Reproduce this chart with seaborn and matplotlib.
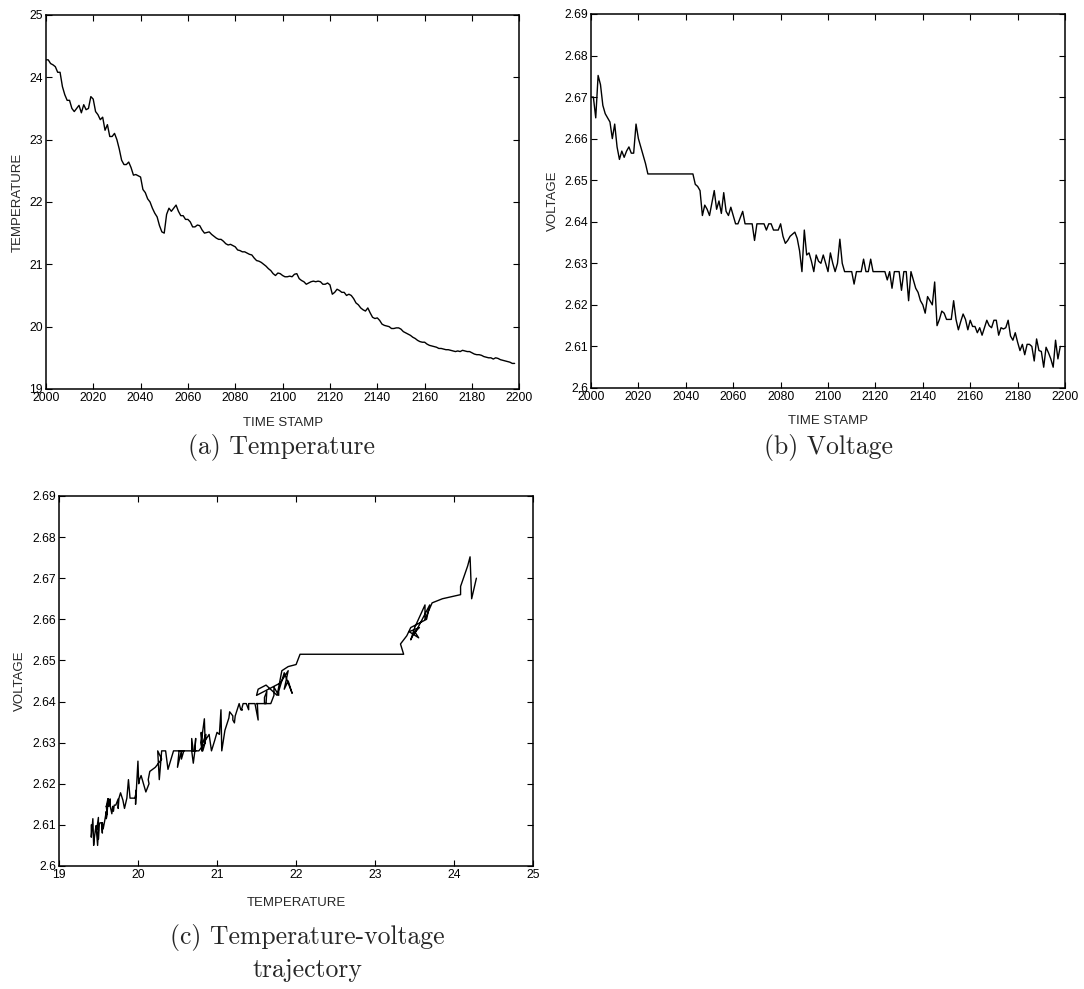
import numpy as np
import pandas as pd
import matplotlib
matplotlib.use('Agg')
import matplotlib.pyplot as plt
from matplotlib.ticker import FuncFormatter, MultipleLocator
import seaborn as sns

# time stamps 2000..2198
time_stamp = list(range(2000, 2199))

temperature = [
    24.28, 24.28, 24.22, 24.20, 24.17, 24.08, 24.08, 23.85, 23.72, 23.63,
    23.63, 23.50, 23.45, 23.50, 23.55, 23.43, 23.56, 23.48, 23.50, 23.69,
    23.65, 23.45, 23.40, 23.32, 23.36, 23.15, 23.24, 23.05, 23.05, 23.10,
    23.00, 22.85, 22.67, 22.60, 22.60, 22.64, 22.55, 22.43, 22.44, 22.42,
    22.40, 22.20, 22.15, 22.05, 22.00, 21.90, 21.82, 21.76, 21.62, 21.52,
    21.50, 21.80, 21.90, 21.85, 21.90, 21.95, 21.85, 21.78, 21.78, 21.72,
    21.72, 21.68, 21.60, 21.60, 21.63, 21.62, 21.55, 21.50, 21.51, 21.52,
    21.48, 21.45, 21.42, 21.40, 21.40, 21.37, 21.33, 21.31, 21.32, 21.30,
    21.28, 21.23, 21.22, 21.20, 21.20, 21.18, 21.16, 21.15, 21.10, 21.06,
    21.05, 21.03, 21.00, 20.97, 20.93, 20.90, 20.85, 20.82, 20.86, 20.85,
    20.82, 20.80, 20.80, 20.81, 20.80, 20.84, 20.85, 20.77, 20.74, 20.72,
    20.68, 20.70, 20.72, 20.73, 20.72, 20.73, 20.72, 20.68, 20.68, 20.70,
    20.67, 20.52, 20.55, 20.60, 20.58, 20.55, 20.55, 20.50, 20.52, 20.50,
    20.45, 20.38, 20.35, 20.30, 20.27, 20.25, 20.30, 20.22, 20.15, 20.13,
    20.14, 20.10, 20.04, 20.02, 20.01, 20.00, 19.97, 19.97, 19.98, 19.98,
    19.96, 19.92, 19.90, 19.88, 19.86, 19.83, 19.81, 19.78, 19.76, 19.75,
    19.75, 19.72, 19.70, 19.69, 19.68, 19.67, 19.65, 19.65, 19.64, 19.63,
    19.63, 19.62, 19.61, 19.60, 19.61, 19.60, 19.62, 19.61, 19.60, 19.60,
    19.58, 19.56, 19.55, 19.55, 19.54, 19.52, 19.51, 19.50, 19.50, 19.48,
    19.50, 19.49, 19.47, 19.46, 19.45, 19.44, 19.43, 19.41, 19.41,
]

voltage = [
    2.6700, 2.6700, 2.6650, 2.6752, 2.6730, 2.6680, 2.6660, 2.6650, 2.6640, 2.6600,
    2.6635, 2.6580, 2.6550, 2.6570, 2.6555, 2.6570, 2.6580, 2.6565, 2.6565, 2.6635,
    2.6600, 2.6580, 2.6560, 2.6540, 2.6515, 2.6515, 2.6515, 2.6515, 2.6515, 2.6515,
    2.6515, 2.6515, 2.6515, 2.6515, 2.6515, 2.6515, 2.6515, 2.6515, 2.6515, 2.6515,
    2.6515, 2.6515, 2.6515, 2.6515, 2.6490, 2.6485, 2.6475, 2.6415, 2.6440, 2.6430,
    2.6415, 2.6445, 2.6475, 2.6430, 2.6450, 2.6420, 2.6470, 2.6425, 2.6415, 2.6435,
    2.6415, 2.6395, 2.6395, 2.6410, 2.6425, 2.6395, 2.6395, 2.6395, 2.6395, 2.6355,
    2.6395, 2.6395, 2.6395, 2.6395, 2.6380, 2.6395, 2.6395, 2.6380, 2.6380, 2.6380,
    2.6395, 2.6365, 2.6348, 2.6355, 2.6365, 2.6370, 2.6375, 2.6360, 2.6330, 2.6280,
    2.6380, 2.6320, 2.6325, 2.6305, 2.6280, 2.6320, 2.6305, 2.6300, 2.6320, 2.6300,
    2.6280, 2.6325, 2.6300, 2.6280, 2.6300, 2.6358, 2.6300, 2.6280, 2.6280, 2.6280,
    2.6280, 2.6250, 2.6280, 2.6280, 2.6280, 2.6310, 2.6280, 2.6280, 2.6310, 2.6280,
    2.6280, 2.6280, 2.6280, 2.6280, 2.6280, 2.6260, 2.6280, 2.6240, 2.6280, 2.6280,
    2.6280, 2.6235, 2.6280, 2.6280, 2.6210, 2.6280, 2.6260, 2.6240, 2.6230, 2.6210,
    2.6200, 2.6180, 2.6220, 2.6210, 2.6200, 2.6255, 2.6150, 2.6165, 2.6185, 2.6180,
    2.6165, 2.6165, 2.6165, 2.6210, 2.6165, 2.6140, 2.6160, 2.6178, 2.6165, 2.6140,
    2.6163, 2.6148, 2.6148, 2.6133, 2.6145, 2.6127, 2.6145, 2.6163, 2.6150, 2.6145,
    2.6163, 2.6163, 2.6127, 2.6145, 2.6142, 2.6145, 2.6163, 2.6125, 2.6115, 2.6133,
    2.6110, 2.6090, 2.6105, 2.6080, 2.6105, 2.6105, 2.6100, 2.6065, 2.6118, 2.6090,
    2.6088, 2.6050, 2.6098, 2.6085, 2.6070, 2.6050, 2.6115, 2.6070, 2.6100,
]

df = pd.DataFrame({'time': time_stamp, 'temp': temperature, 'volt': voltage})

sns.set_style('ticks')
plt.rcParams['font.family'] = ['Liberation Sans', 'DejaVu Sans']
plt.rcParams['axes.linewidth'] = 1.1
plt.rcParams['xtick.direction'] = 'in'
plt.rcParams['ytick.direction'] = 'in'
plt.rcParams['xtick.major.size'] = 4
plt.rcParams['ytick.major.size'] = 4
plt.rcParams['xtick.major.width'] = 0.8
plt.rcParams['ytick.major.width'] = 0.8

fig = plt.figure(figsize=(10.84, 9.89), dpi=100)
ax_a = fig.add_axes([0.0423, 0.6067, 0.4368, 0.3782])
ax_b = fig.add_axes([0.5452, 0.6077, 0.4373, 0.3782])
ax_c = fig.add_axes([0.0543, 0.1244, 0.4377, 0.3741])

gfmt = FuncFormatter(lambda v, p: '%g' % round(v, 4))

def style_axes(ax, xlab, ylab, xlab_y, ylab_x):
    ax.tick_params(top=True, right=True, labelsize=8.8, colors='black', pad=2)
    ax.xaxis.set_major_formatter(gfmt)
    ax.yaxis.set_major_formatter(gfmt)
    ax.set_xlabel(xlab, fontsize=9.5)
    ax.set_ylabel(ylab, fontsize=9.5)
    ax.xaxis.set_label_coords(0.5, xlab_y)
    ax.yaxis.set_label_coords(ylab_x, 0.5)
    for s in ax.spines.values():
        s.set_color('black')

# (a) temperature
sns.lineplot(data=df, x='time', y='temp', ax=ax_a, color='black', linewidth=1.0)
ax_a.set_xlim(2000, 2200)
ax_a.set_ylim(19, 25)
ax_a.xaxis.set_major_locator(MultipleLocator(20))
ax_a.yaxis.set_major_locator(MultipleLocator(1))
style_axes(ax_a, 'TIME STAMP', 'TEMPERATURE', -0.075, -0.047)

# (b) voltage
sns.lineplot(data=df, x='time', y='volt', ax=ax_b, color='black', linewidth=1.0)
ax_b.set_xlim(2000, 2200)
ax_b.set_ylim(2.60, 2.69)
ax_b.xaxis.set_major_locator(MultipleLocator(20))
ax_b.yaxis.set_major_locator(MultipleLocator(0.01))
style_axes(ax_b, 'TIME STAMP', 'VOLTAGE', -0.072, -0.0675)

# (c) temperature-voltage trajectory
sns.lineplot(data=df, x='temp', y='volt', ax=ax_c, color='black', linewidth=1.0,
             sort=False, estimator=None)
ax_c.set_xlim(19, 25)
ax_c.set_ylim(2.60, 2.69)
ax_c.xaxis.set_major_locator(MultipleLocator(1))
ax_c.yaxis.set_major_locator(MultipleLocator(0.01))
style_axes(ax_c, 'TEMPERATURE', 'VOLTAGE', -0.084, -0.0687)

cap = dict(fontsize=18.5, family='cmr10', ha='center', va='baseline')
fig.text(282 / 1084, 1 - 454 / 989, '(a) Temperature', **cap)
fig.text(828 / 1084, 1 - 454 / 989, '(b) Voltage', **cap)
fig.text(307 / 1084, 1 - 944 / 989, '(c) Temperature-voltage', **cap)
fig.text(307 / 1084, 1 - 977 / 989, 'trajectory', **cap)

fig.savefig('out.png', dpi=100)
